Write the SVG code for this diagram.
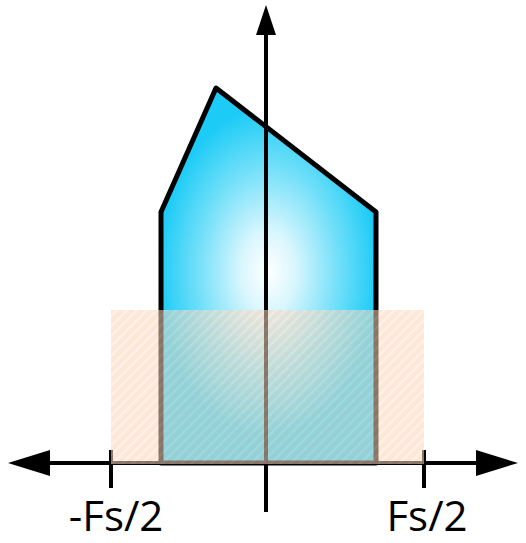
<svg xmlns="http://www.w3.org/2000/svg" width="526" height="543" viewBox="0 0 526 543">
<style>
.ax{stroke:#000;stroke-width:4;fill:none}
.lbl{font-family:"Open Sans","Liberation Sans",sans-serif;font-size:42px;fill:#000;text-anchor:middle}
</style>
<defs>
<radialGradient id="g" gradientUnits="userSpaceOnUse" cx="268" cy="272" r="110" gradientTransform="translate(268 272) scale(1 1.5) translate(-268 -272)">
<stop offset="0" stop-color="#ffffff"/>
<stop offset="0.25" stop-color="#d8f6fe"/>
<stop offset="0.65" stop-color="#6fdff9"/>
<stop offset="1" stop-color="#1ccbf6"/>
</radialGradient>
<pattern id="h" width="7" height="7" patternUnits="userSpaceOnUse" patternTransform="rotate(45)">
<rect width="7" height="7" fill="#fbd3b6"/>
<rect width="2.5" height="7" fill="#fde6d6"/>
</pattern>
</defs>
<g id="spectrum">
<polygon points="161,463 161,212 216,88 376,212 376,463" fill="url(#g)" stroke="#000" stroke-width="5" stroke-linejoin="round"/>
</g>
<g id="connectors">
<line class="ax" x1="266" y1="512" x2="266" y2="30"/>
<path d="M266,5 L276,35 L256,35 z" fill="#000"/>
<line class="ax" x1="45" y1="463" x2="485" y2="463"/>
<path d="M8,463 L50,450 L50,476 z" fill="#000"/>
<path d="M518,463 L476,450 L476,476 z" fill="#000"/>
<line class="ax" x1="111" y1="450" x2="111" y2="488"/>
<line class="ax" x1="424" y1="450" x2="424" y2="488"/>
</g>
<g id="band">
<rect x="111" y="310" width="313" height="154" fill="url(#h)" opacity="0.55"/>
</g>
<g id="labels">
<text class="lbl" x="116" y="531">-Fs/2</text>
<text class="lbl" x="427" y="531">Fs/2</text>
</g>
</svg>
